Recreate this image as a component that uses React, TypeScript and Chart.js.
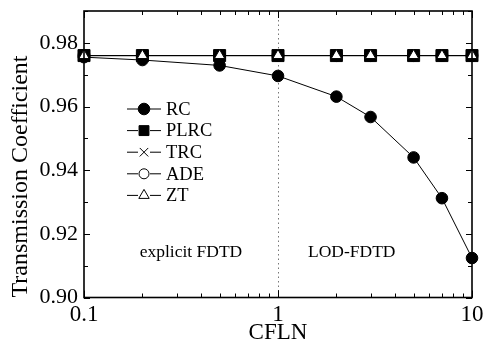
import React, { useEffect, useRef } from "react";
import { Chart, registerables } from "chart.js";
import { drawPoint } from "chart.js/helpers";

Chart.register(...registerables);

const cfln = [0.1, 0.2, 0.5, 1, 2, 3, 5, 7, 10];
const rcValues = [0.9755, 0.9746, 0.9729, 0.9696, 0.9631, 0.9567, 0.944, 0.9312, 0.9124];
const plrcValues = [0.976, 0.976, 0.976, 0.976, 0.976, 0.976, 0.976, 0.976, 0.976];
const trcValues = [0.976, 0.976, 0.976, 0.976, 0.976, 0.976, 0.976, 0.976, 0.976];
const adeValues = [0.976, 0.976, 0.976, 0.976, 0.976, 0.976, 0.976, 0.976, 0.976];
const ztValues = [0.976, 0.976, 0.976, 0.976, 0.976, 0.976, 0.976, 0.976, 0.976];
const seriesNames = ["RC", "PLRC", "TRC", "ADE", "ZT"];
const xTickValues = [0.1, 1, 10];
const xTickLabels = ["0.1", "1", "10"];
const yTickValues = [0.9, 0.92, 0.94, 0.96, 0.98];
const regionLabels = ["explicit FDTD", "LOD-FDTD"];
const xAxisTitle = "CFLN";
const yAxisTitle = "Transmission Coefficient";

const FONT = "'Liberation Serif', 'Times New Roman', serif";

const toPoints = (vals: number[]) => cfln.map((x, i) => ({ x, y: vals[i] }));

const framePlugin = {
  id: "frameTicks",
  beforeDatasetsDraw(chart: any) {
    const { ctx, chartArea, scales } = chart;
    const px = scales.x.getPixelForValue(1);
    ctx.save();
    ctx.strokeStyle = "#777";
    ctx.lineWidth = 1;
    ctx.setLineDash([1.5, 3]);
    ctx.beginPath();
    ctx.moveTo(Math.round(px) + 0.5, chartArea.top);
    ctx.lineTo(Math.round(px) + 0.5, chartArea.bottom);
    ctx.stroke();
    ctx.restore();

    ctx.save();
    ctx.fillStyle = "#000";
    ctx.font = `17.5px ${FONT}`;
    ctx.textAlign = "center";
    ctx.textBaseline = "middle";
    const ay = scales.y.getPixelForValue(0.9143);
    ctx.fillText(regionLabels[0], scales.x.getPixelForValue(0.356), ay);
    ctx.fillText(regionLabels[1], scales.x.getPixelForValue(2.4), ay);
    ctx.restore();
  },
  afterDraw(chart: any) {
    const { ctx, chartArea, scales } = chart;
    const { left, right, top, bottom } = chartArea;
    ctx.save();
    ctx.strokeStyle = "#000";
    ctx.lineWidth = 1;
    ctx.setLineDash([]);
    ctx.beginPath();
    for (let k = 0; k <= 9; k++) {
      const v = 0.9 + k * 0.01;
      const y = Math.round(scales.y.getPixelForValue(v)) + 0.5;
      const len = k % 2 === 0 ? 6 : 4;
      ctx.moveTo(left, y);
      ctx.lineTo(left + len, y);
      ctx.moveTo(right, y);
      ctx.lineTo(right - len, y);
    }
    for (const dec of [0.1, 1]) {
      for (let m = 1; m <= 10; m++) {
        const v = dec * m;
        const x = Math.round(scales.x.getPixelForValue(v)) + 0.5;
        const major = m === 1 || m === 10;
        const len = major ? 7 : 4;
        ctx.moveTo(x, bottom);
        ctx.lineTo(x, bottom - len);
        ctx.moveTo(x, top);
        ctx.lineTo(x, top + len);
      }
    }
    ctx.stroke();
    ctx.lineWidth = 1.6;
    ctx.strokeRect(left, top, right - left, bottom - top);
    ctx.restore();

    // legend
    ctx.save();
    const lx0 = 127;
    const lx1 = 161;
    const mx = 144;
    const ly0 = 109;
    const step = 21.6;
    ctx.font = `18.5px ${FONT}`;
    ctx.textBaseline = "middle";
    ctx.textAlign = "left";
    chart.data.datasets
      .slice()
      .sort((a: any, b: any) => a.legendIndex - b.legendIndex)
      .forEach((ds: any, i: number) => {
        const y = ly0 + i * step;
        ctx.strokeStyle = "#000";
        ctx.lineWidth = 1;
        ctx.beginPath();
        ctx.moveTo(lx0, y);
        ctx.lineTo(lx1, y);
        ctx.stroke();
        ctx.fillStyle = "#fff";
        ctx.fillRect(mx - 6, y - 6, 12, 12);
        ctx.fillStyle = ds.pointBackgroundColor;
        ctx.strokeStyle = "#000";
        ctx.lineWidth = 1;
        drawPoint(
          ctx,
          {
            pointStyle: ds.pointStyle,
            rotation: 0,
            radius: ds.legendRadius,
            borderWidth: 1,
          } as any,
          mx,
          y
        );
        ctx.fillStyle = "#000";
        ctx.fillText(ds.label, 166, y + 1);
      });
    ctx.restore();
  },
};

export default function App() {
  const ref = useRef<HTMLCanvasElement | null>(null);
  useEffect(() => {
    document.body.style.margin = "0";
    const common = {
      borderColor: "#000",
      borderWidth: 1,
      pointBorderColor: "#000",
      pointBorderWidth: 1,
      tension: 0,
      clip: false as any,
      fill: false,
    };
    const chart = new Chart(ref.current as HTMLCanvasElement, {
      type: "line",
      data: {
        datasets: [
          {
            ...common,
            label: seriesNames[4],
            data: toPoints(ztValues),
            pointStyle: "triangle",
            pointRadius: 6,
            pointBackgroundColor: "#fff",
            order: 0,
            legendIndex: 4,
            legendRadius: 6,
          } as any,
          {
            ...common,
            label: seriesNames[1],
            data: toPoints(plrcValues),
            pointStyle: "rect",
            pointRadius: 8.5,
            pointBackgroundColor: "#000",
            order: 1,
            legendIndex: 1,
            legendRadius: 7,
          } as any,
          {
            ...common,
            label: seriesNames[2],
            data: toPoints(trcValues),
            pointStyle: "crossRot",
            pointRadius: 7,
            pointBackgroundColor: "#000",
            order: 2,
            legendIndex: 2,
            legendRadius: 6,
          } as any,
          {
            ...common,
            label: seriesNames[3],
            data: toPoints(adeValues),
            pointStyle: "circle",
            pointRadius: 6,
            pointBackgroundColor: "#fff",
            order: 3,
            legendIndex: 3,
            legendRadius: 5,
          } as any,
          {
            ...common,
            label: seriesNames[0],
            data: toPoints(rcValues),
            pointStyle: "circle",
            pointRadius: 5.8,
            pointBackgroundColor: "#000",
            order: 4,
            legendIndex: 0,
            legendRadius: 5.8,
          } as any,
        ],
      },
      options: {
        responsive: false,
        animation: false,
        events: [],
        layout: { padding: { top: 11, right: 12, left: 0, bottom: 0 } },
        plugins: { legend: { display: false }, tooltip: { enabled: false } },
        scales: {
          x: {
            type: "logarithmic",
            min: 0.1,
            max: 10,
            grid: { display: false, drawTicks: false },
            border: { display: false },
            afterBuildTicks: (s: any) => {
              s.ticks = xTickValues.map((v) => ({ value: v }));
            },
            afterFit: (s: any) => {
              s.height = 47.5;
              s.paddingLeft = 0;
              s.paddingRight = 0;
            },
            ticks: {
              color: "#000",
              padding: 4,
              maxRotation: 0,
              autoSkip: false,
              font: { family: FONT, size: 23 },
              callback: (v: any) => {
                const i = xTickValues.indexOf(Number(v));
                return i >= 0 ? xTickLabels[i] : "";
              },
            },
            title: {
              display: true,
              text: xAxisTitle,
              color: "#000",
              font: { family: FONT, size: 23, lineHeight: 1 },
              padding: { top: 0, bottom: 1 },
            },
          },
          y: {
            type: "linear",
            min: 0.9,
            max: 0.99,
            grid: { display: false, drawTicks: false },
            border: { display: false },
            afterBuildTicks: (s: any) => {
              s.ticks = yTickValues.map((v) => ({ value: v }));
            },
            afterFit: (s: any) => {
              s.width = 84;
              s.paddingTop = 0;
              s.paddingBottom = 0;
            },
            ticks: {
              color: "#000",
              padding: 6,
              autoSkip: false,
              font: { family: FONT, size: 22 },
              callback: (v: any) => Number(v).toFixed(2),
            },
            title: {
              display: true,
              text: yAxisTitle,
              color: "#000",
              align: "start",
              font: { family: FONT, size: 24 },
              padding: { top: 6, bottom: 0 },
            },
          },
        },
      },
      plugins: [framePlugin],
    });
    return () => chart.destroy();
  }, []);
  return (
    <div style={{ position: "absolute", left: 0, top: 0, width: 484, height: 345 }}>
      <canvas ref={ref} width={484} height={345} style={{ width: 484, height: 345 }} />
    </div>
  );
}
